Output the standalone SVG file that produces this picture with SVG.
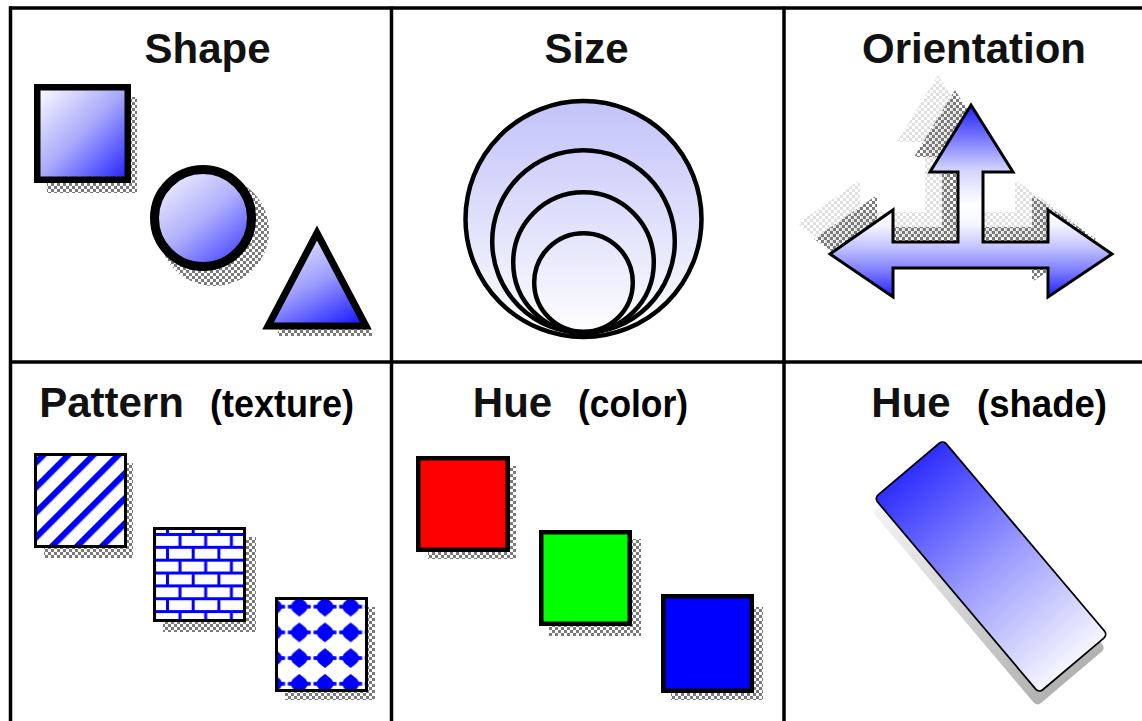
<svg xmlns="http://www.w3.org/2000/svg" width="1142" height="721" viewBox="0 0 1142 721">
<style>
.title{font-family:"Liberation Sans",Arial,sans-serif;font-weight:bold;font-size:42px;fill:#111;text-anchor:middle}
.sub{font-family:"Liberation Sans",Arial,sans-serif;font-weight:bold;font-size:38px;fill:#000;text-anchor:middle}
.grid{stroke:#000;stroke-width:3.5;fill:none}
.box{stroke:#000;stroke-width:3}
.hbox{stroke:#000;stroke-width:4.5}
.shd{fill:url(#chk)}
</style>
<defs>
<pattern id="chk" width="6" height="6" patternUnits="userSpaceOnUse"><rect width="3" height="3" fill="#7a7a7a"/><rect x="3" y="3" width="3" height="3" fill="#7a7a7a"/></pattern>
<pattern id="chkL" width="6" height="6" patternUnits="userSpaceOnUse"><rect width="3" height="3" fill="#e0e0e0"/><rect x="3" y="3" width="3" height="3" fill="#e0e0e0"/></pattern>
<linearGradient id="gSq" x1="0" y1="0" x2="1" y2="1"><stop offset="0" stop-color="#ffffff"/><stop offset="0.5" stop-color="#a8a8fa"/><stop offset="1" stop-color="#2020ff"/></linearGradient>
<linearGradient id="gCirc" x1="0.1" y1="0" x2="0.9" y2="1"><stop offset="0" stop-color="#f6f6ff"/><stop offset="0.5" stop-color="#b0b0fc"/><stop offset="1" stop-color="#3a3aff"/></linearGradient>
<linearGradient id="gTri" x1="0.3" y1="0" x2="0.85" y2="1"><stop offset="0" stop-color="#ececff"/><stop offset="0.5" stop-color="#9a9aff"/><stop offset="1" stop-color="#1c1cff"/></linearGradient>
<linearGradient id="gSize" gradientUnits="userSpaceOnUse" x1="0" y1="100" x2="0" y2="338"><stop offset="0" stop-color="#c2c2fa"/><stop offset="0.5" stop-color="#e0e0fc"/><stop offset="1" stop-color="#ffffff"/></linearGradient>
<linearGradient id="gArrow" gradientUnits="userSpaceOnUse" x1="0" y1="105" x2="0" y2="297">
<stop offset="0" stop-color="#2020ff"/><stop offset="0.156" stop-color="#7070ff"/><stop offset="0.34" stop-color="#d4d4ff"/><stop offset="0.52" stop-color="#ffffff"/><stop offset="0.625" stop-color="#f4f4ff"/><stop offset="0.73" stop-color="#c8c8ff"/><stop offset="0.86" stop-color="#8080ff"/><stop offset="1" stop-color="#2020ff"/></linearGradient>
<linearGradient id="gShade" x1="0" y1="0" x2="0" y2="1"><stop offset="0" stop-color="#2e2eff"/><stop offset="0.5" stop-color="#9a9aff"/><stop offset="1" stop-color="#f6f6ff"/></linearGradient>
<linearGradient id="gShadeShadow" x1="0" y1="0" x2="0" y2="1"><stop offset="0" stop-color="#f4f4f4"/><stop offset="1" stop-color="#b2b2b2"/></linearGradient>
<pattern id="stripes" width="10" height="17.68" patternUnits="userSpaceOnUse" patternTransform="translate(36,458) rotate(-45)"><rect width="10" height="17.68" fill="#fff"/><rect width="10" height="6.2" fill="#0000ff"/></pattern>
<pattern id="bricks" x="166" y="533" width="25.7" height="25.7" patternUnits="userSpaceOnUse"><rect width="25.7" height="25.7" fill="#fff"/><rect y="0" width="25.7" height="3" fill="#0000ff"/><rect y="12.85" width="25.7" height="3" fill="#0000ff"/><rect x="12.5" y="3" width="3" height="9.85" fill="#0000ff"/><rect x="0" y="15.85" width="3" height="9.85" fill="#0000ff"/></pattern>
<pattern id="diamonds" x="286.45" y="593.85" width="25.7" height="25.7" patternUnits="userSpaceOnUse"><rect width="25.7" height="25.7" fill="#fff"/><polygon transform="translate(12.85,12.85)" fill="#0000ff" points="0,-10 2.5,-8 5,-6 7,-4 8,-2 11.5,-1.8 11.5,1.8 8,2 7,4 5,6 2.5,8 0,10 -2.5,8 -5,6 -7,4 -8,2 -11.5,1.8 -11.5,-1.8 -8,-2 -7,-4 -5,-6 -2.5,-8"/></pattern>
<polygon id="arrowShape" points="971,105 1013,172 983,172 983,242 1048,242 1048,210 1112,254 1048,297 1048,268 893,268 893,297 830,254 893,210 893,242 958,242 958,172 930,172"/>
</defs>
<rect width="1142" height="721" fill="#fff"/>

<g id="grid">
<line class="grid" x1="9" y1="8" x2="1142" y2="8"/>
<line class="grid" x1="10.5" y1="6.5" x2="10.5" y2="721"/>
<line class="grid" x1="391.5" y1="6.5" x2="391.5" y2="721"/>
<line class="grid" x1="784" y1="6.5" x2="784" y2="721"/>
<line class="grid" x1="9" y1="362" x2="1142" y2="362"/>
</g>

<g id="cell-shape">
<text class="title" x="207.5" y="63">Shape</text>
<g id="shape-square">
<rect class="shd" x="47" y="97" width="90" height="96"/>
<rect x="37.25" y="87.25" width="90.5" height="92.5" fill="url(#gSq)" stroke="#000" stroke-width="6.5"/>
</g>
<g id="shape-circle">
<circle class="shd" cx="214" cy="231" r="55"/>
<circle cx="203" cy="218" r="48.5" fill="url(#gCirc)" stroke="#000" stroke-width="9"/>
</g>
<g id="shape-triangle">
<polygon class="shd" points="325,243 276,336 374,336"/>
<polygon points="317,233 268,326 366,326" fill="url(#gTri)" stroke="#000" stroke-width="7" stroke-linejoin="miter"/>
</g>
</g>

<g id="cell-size">
<text class="title" x="586.5" y="63">Size</text>
<g fill="none" stroke="#000" stroke-width="4.5">
<circle cx="583.5" cy="219" r="118" fill="url(#gSize)"/>
<circle cx="583.5" cy="241.5" r="91.3"/>
<circle cx="583.5" cy="262.5" r="70.3"/>
<circle cx="583.5" cy="282.5" r="49.3"/>
</g>
</g>

<g id="cell-orientation">
<text class="title" x="974" y="63">Orientation</text>
<use href="#arrowShape" transform="translate(-33,-30)" fill="url(#chkL)"/>
<use href="#arrowShape" transform="translate(-16,-15)" fill="url(#chk)"/>
<use href="#arrowShape" fill="url(#gArrow)" stroke="#000" stroke-width="3" stroke-linejoin="miter"/>
</g>

<g id="cell-pattern">
<text class="title" x="111.5" y="417">Pattern</text>
<text class="sub" x="282" y="417" textLength="144" lengthAdjust="spacingAndGlyphs">(texture)</text>
<g id="pattern-stripes">
<rect class="shd" x="44" y="463" width="89" height="95"/>
<rect class="box" x="35.5" y="454.5" width="90" height="92" fill="url(#stripes)"/>
</g>
<g id="pattern-bricks">
<rect class="shd" x="163" y="537" width="93" height="95"/>
<rect class="box" x="154.5" y="528.5" width="90" height="92" fill="url(#bricks)"/>
</g>
<g id="pattern-diamonds">
<rect class="shd" x="285" y="607" width="90" height="93"/>
<rect class="box" x="276.5" y="598.5" width="90" height="92" fill="url(#diamonds)"/>
</g>
</g>

<g id="cell-hue-color">
<text class="title" x="512.5" y="417">Hue</text>
<text class="sub" x="633" y="417" textLength="110" lengthAdjust="spacingAndGlyphs">(color)</text>
<g id="hue-red">
<rect class="shd" x="428" y="466" width="88" height="93"/>
<rect class="hbox" x="418.25" y="458.25" width="89.5" height="91.5" fill="#ff0000"/>
</g>
<g id="hue-green">
<rect class="shd" x="549" y="539" width="92" height="97"/>
<rect class="hbox" x="541.25" y="532.25" width="88.5" height="91.5" fill="#00ff00"/>
</g>
<g id="hue-blue">
<rect class="shd" x="671" y="607" width="92" height="93"/>
<rect class="hbox" x="663.25" y="596.25" width="88.5" height="94.5" fill="#0000ff"/>
</g>
</g>

<g id="cell-hue-shade">
<text class="title" x="911" y="417">Hue</text>
<text class="sub" x="1042" y="417" textLength="130" lengthAdjust="spacingAndGlyphs">(shade)</text>
<g id="shade-bar">
<g transform="translate(989,580) rotate(-40.2)"><rect x="-45" y="-127.5" width="90" height="255" rx="5" fill="url(#gShadeShadow)"/></g>
<g transform="translate(991,566.5) rotate(-40.2)"><rect x="-45" y="-127.5" width="90" height="255" rx="5" fill="url(#gShade)" stroke="#000" stroke-width="1.8"/></g>
</g>
</g>
</svg>
